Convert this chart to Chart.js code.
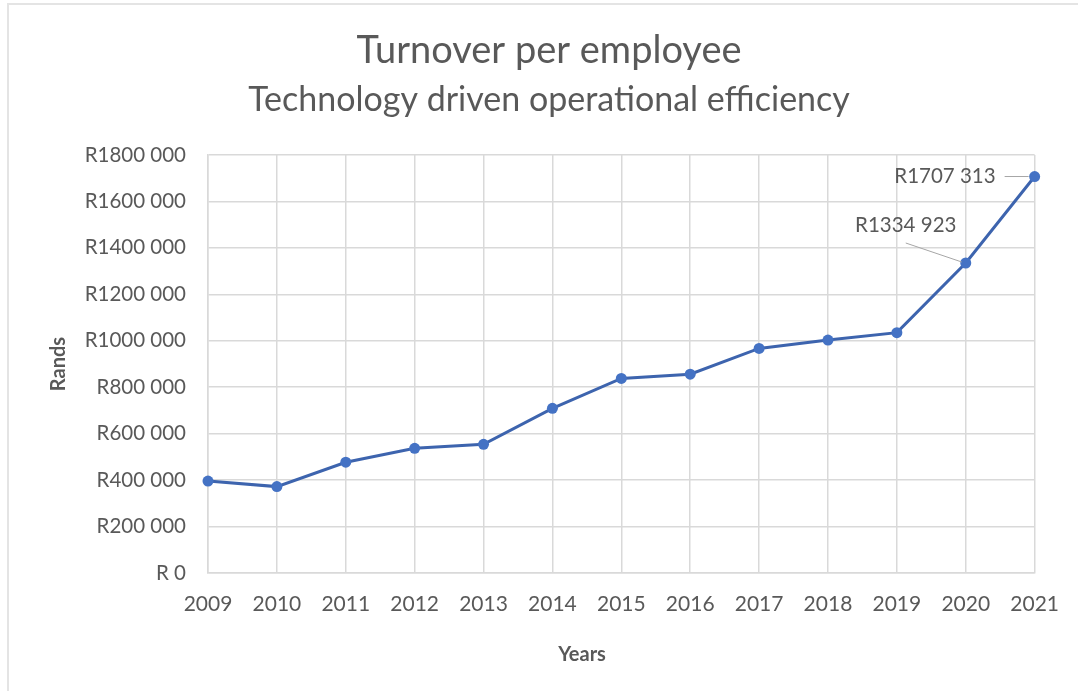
<!DOCTYPE html>
<html>
<head>
<meta charset="utf-8">
<script src="https://cdn.jsdelivr.net/npm/chart.js@4.4.1/dist/chart.umd.min.js"></script>
<style>
  html, body { margin: 0; padding: 0; background: #fff; }
  #wrap { position: relative; width: 1078px; height: 691px; }
</style>
</head>
<body>
<div id="wrap"><canvas id="c" width="1078" height="691"></canvas></div>
<script>
const years = ['2009','2010','2011','2012','2013','2014','2015','2016','2017','2018','2019','2020','2021'];
const turnover = [396000, 372000, 477000, 537000, 554000, 709000, 838000, 856000, 967000, 1003000, 1035000, 1334923, 1707313];
const yTicks = [0, 200000, 400000, 600000, 800000, 1000000, 1200000, 1400000, 1600000, 1800000];
const labelledYears = ['2020', '2021'];

const chartTitle = 'Turnover per employee';
const chartSubtitle = 'Technology driven operational efficiency';
const xAxisTitle = 'Years';
const yAxisTitle = 'Rands';

function rand(v) {
  if (v === 0) return 'R 0';
  const th = Math.floor(v / 1000);
  const rest = String(Math.round(v % 1000)).padStart(3, '0');
  return 'R' + th + ' ' + rest;
}

const FONT = 'Lato, "Open Sans", sans-serif';
const GREY = '#595959';

const decor = {
  id: 'decor',
  beforeDraw(chart) {
    const ctx = chart.ctx;
    ctx.save();
    ctx.fillStyle = '#e4e4e4';
    ctx.fillRect(7, 3, 1071, 2);
    ctx.fillRect(7, 3, 2, 688);
    ctx.restore();
  },
  afterDraw(chart) {
    const ctx = chart.ctx;
    const xs = chart.scales.x, ys = chart.scales.y;
    ctx.save();
    ctx.fillStyle = GREY;
    ctx.textAlign = 'center';
    ctx.textBaseline = 'middle';
    ctx.font = '38px ' + FONT;
    ctx.fillText(chartTitle, 549, 51);
    ctx.font = '34px ' + FONT;
    ctx.fillText(chartSubtitle, 549, 100);

    ctx.font = 'bold 20px ' + FONT;
    ctx.fillText(xAxisTitle, 582, 655);
    ctx.save();
    ctx.translate(59, (ys.top + ys.bottom) / 2);
    ctx.rotate(-Math.PI / 2);
    ctx.fillText(yAxisTitle, 0, 0);
    ctx.restore();

    // data labels with leader lines
    ctx.font = '20.5px ' + FONT;
    ctx.strokeStyle = '#a6a6a6';
    ctx.lineWidth = 1;
    labelledYears.forEach(yr => {
      const i = years.indexOf(yr);
      const px = xs.getPixelForValue(i);
      const py = ys.getPixelForValue(turnover[i]);
      const txt = rand(turnover[i]);
      ctx.beginPath();
      if (i === years.length - 1) {
        ctx.moveTo(px - 30, py);
        ctx.lineTo(px - 6, py);
        ctx.stroke();
        ctx.textAlign = 'right';
        ctx.fillText(txt, px - 39, py);
      } else {
        ctx.moveTo(px - 60, py - 20);
        ctx.lineTo(px - 4, py - 1);
        ctx.stroke();
        ctx.textAlign = 'center';
        ctx.fillText(txt, px - 60, py - 38);
      }
    });
    ctx.restore();
  }
};

new Chart(document.getElementById('c'), {
  type: 'line',
  data: {
    labels: years,
    datasets: [{
      data: turnover,
      borderColor: '#3d64ae',
      backgroundColor: '#4472C4',
      borderWidth: 3,
      pointRadius: 5.5,
      pointHoverRadius: 5.5,
      pointBackgroundColor: '#4472C4',
      pointBorderColor: '#4472C4',
      pointBorderWidth: 0,
      tension: 0,
      clip: false
    }]
  },
  options: {
    responsive: false,
    animation: false,
    events: [],
    layout: { padding: { left: 10, right: 42, top: 155, bottom: 10 } },
    plugins: { legend: { display: false }, title: { display: false }, tooltip: { enabled: false } },
    scales: {
      x: {
        offset: false,
        grid: { color: '#d9d9d9', lineWidth: 1.5, drawTicks: false },
        border: { color: '#d9d9d9', width: 1.5 },
        ticks: { color: GREY, font: { family: FONT, size: 21 }, padding: 19, maxRotation: 0, autoSkip: false },
        afterFit(s) { s.height = 691 - 573 - 10; }
      },
      y: {
        min: 0, max: 1800000,
        afterBuildTicks(s) { s.ticks = yTicks.map(v => ({ value: v })); },
        grid: { color: '#d9d9d9', lineWidth: 1.5, drawTicks: false },
        border: { color: '#d9d9d9', width: 1.5 },
        ticks: { color: GREY, font: { family: FONT, size: 20.5 }, padding: 22, callback: v => rand(v) },
        afterFit(s) { s.width = 208 - 10; }
      }
    }
  },
  plugins: [decor]
});
</script>
</body>
</html>
